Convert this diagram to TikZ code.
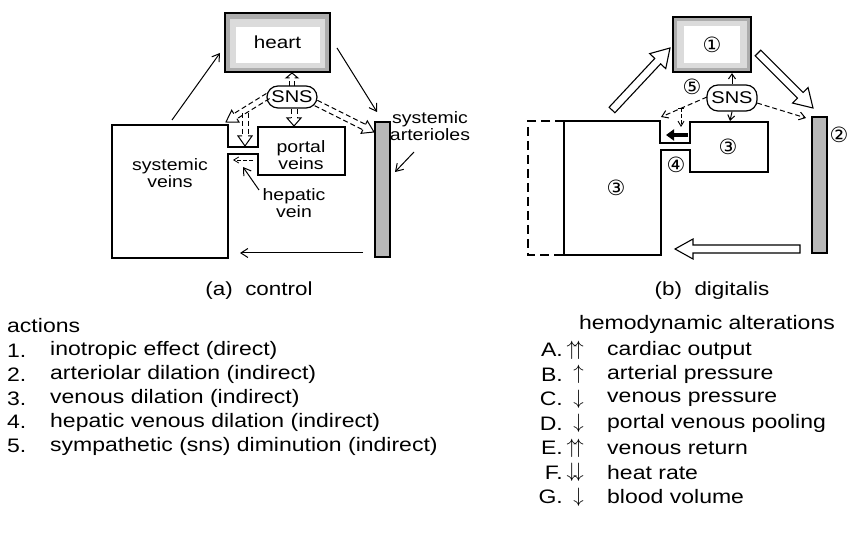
\documentclass[tikz,border=0pt]{standalone}
\usepackage{fontspec}
\setmainfont{Liberation Sans}[FakeStretch=1.18]
\newfontfamily\symfont{DejaVu Sans}
\usetikzlibrary{arrows.meta,calc}

\tikzset{
  wall/.style={line width=1.3pt, line join=miter},
  stipple/.style={draw, line width=2.2pt, fill=black!32, inner sep=0pt},
  vessel/.style={draw, line width=1.5pt, fill=black!28, inner sep=0pt},
  flow/.style={line width=1pt, -{Straight Barb[length=7pt,width=9pt,line width=1pt]}},
  nerve/.style={line width=1pt, dash pattern=on 5pt off 3pt, -{Straight Barb[length=6pt,width=8pt,line width=1pt]}},
  nervebox/.style={draw, line width=1.2pt, rounded corners=11pt, minimum width=50pt,
    minimum height=24pt, inner sep=0pt, font=\fontsize{17}{17}\selectfont},
  partname/.style={font=\fontsize{16.5}{17}\selectfont, align=center, inner sep=1pt},
  circnum/.style={font=\symfont\fontsize{21}{21}\selectfont, inner sep=0pt},
  listtext/.style={anchor=west, inner sep=0pt, font=\fontsize{19.5}{21}\selectfont},
}

% hollow block arrow: [style]{from}{to}{half shaft}{head length}{half head}
\newcommand{\hollowarrow}[6][]{%
  \coordinate (hbase) at ($(#3)!#5!(#2)$);
  \filldraw[fill=white, line width=1.1pt, line join=miter, #1]
    ($(#2)!#4!90:(#3)$) -- ($(hbase)!#4!90:(#3)$) -- ($(hbase)!#6!90:(#3)$) -- (#3)
    -- ($(hbase)!#6!-90:(#3)$) -- ($(hbase)!#4!-90:(#3)$) -- ($(#2)!#4!-90:(#3)$) -- cycle;
}
% dashed hollow arrow, open at its tail: {from}{to}{half shaft}{head length}{half head}
\newcommand{\dashedhollow}[5]{%
  \coordinate (hbase) at ($(#2)!#4!(#1)$);
  \draw[line width=1pt, dash pattern=on 5pt off 3pt] ($(#1)!#3!90:(#2)$) -- ($(hbase)!#3!90:(#2)$);
  \draw[line width=1pt, dash pattern=on 5pt off 3pt] ($(#1)!#3!-90:(#2)$) -- ($(hbase)!#3!-90:(#2)$);
  \draw[line width=1pt, line join=miter] ($(hbase)!#3!90:(#2)$) -- ($(hbase)!#5!90:(#2)$) -- (#2)
    -- ($(hbase)!#5!-90:(#2)$) -- ($(hbase)!#3!-90:(#2)$);
}

\begin{document}
\begin{tikzpicture}[x=1pt, y=-1pt]
\useasboundingbox (0,0) rectangle (849,534);

% ================= (a) control =================
% heart
\node[stipple, minimum width=105pt, minimum height=59pt] (heartA) at (277.5,42.5) {};
\fill[black!14] ([shift={(6pt,-7pt)}]heartA.north west) rectangle ([shift={(-6pt,5pt)}]heartA.south east);
\fill[white] ([shift={(12pt,-15pt)}]heartA.north west) rectangle ([shift={(-11pt,10pt)}]heartA.south east);
\node[partname, font=\fontsize{17.5}{17}\selectfont] (heartAtxt) at (heartA) {heart};

% sympathetic nerves
\node[nervebox, minimum height=22pt] (snsA) at (292,97) {SNS};

% systemic arterioles
\node[vessel, minimum width=15pt, minimum height=135pt] (barA) at (382.5,189.5) {};

% systemic veins + cup + portal veins
\draw[wall] (228,154) -- (228,258) -- (112,258) -- (112,125) -- (228,125) -- (228,147)
  -- (258,147) -- (258,127) -- (345,127) -- (345,175) -- (258,175) -- (258,154) -- cycle;

\node[partname] (veinsA) at (170,173) {systemic\\veins};
\node[partname] (portalA) at (301,155) {portal\\veins};
\node[partname] (hepatic) at (294,203) {hepatic\\vein};
\node[partname] (arterioles) at (430,126) {systemic\\arterioles};

% circulation
\coordinate (a-sv) at (172,120); \coordinate (a-ht) at (220,53);
\coordinate (a-hr) at (337,48);  \coordinate (a-bt) at (377,112);
\coordinate (a-bb) at (363,253); \coordinate (a-vb) at (240,253);
\draw[flow] (a-sv) -- (a-ht);
\draw[flow] (a-hr) -- (a-bt);
\draw[flow] (a-bb) -- (a-vb);

% hepatic vein flow and pointers
\coordinate (a-hp1) at (253,160); \coordinate (a-hp2) at (233,160);
\draw[line width=0.8pt, dash pattern=on 4pt off 2pt, -{Straight Barb[length=5pt,width=6pt]}] (a-hp1) -- (a-hp2);
\coordinate (a-hl) at (259,190); \coordinate (a-hv) at (243,167);
\draw[flow] (a-hl) -- (a-hv);
\coordinate (a-al) at (414,152); \coordinate (a-ar) at (395,172);
\draw[flow] (a-al) -- (a-ar);

% SNS outflow (dashed, hollow)
\coordinate (a-n1) at (268,96);  \coordinate (a-n1t) at (226,122);
\coordinate (a-n2) at (245,113); \coordinate (a-n2t) at (245,146);
\coordinate (a-n3) at (294,109); \coordinate (a-n3t) at (294,126);
\coordinate (a-n4) at (316,103); \coordinate (a-n4t) at (374,132);
\coordinate (a-n5) at (292,86);  \coordinate (a-n5t) at (292,73);
\dashedhollow{a-n1}{a-n1t}{3pt}{11pt}{7pt}
\dashedhollow{a-n2}{a-n2t}{3pt}{10pt}{7pt}
\dashedhollow{a-n3}{a-n3t}{3pt}{8pt}{7pt}
\dashedhollow{a-n4}{a-n4t}{3pt}{11pt}{7pt}
\dashedhollow{a-n5}{a-n5t}{2.5pt}{5pt}{6pt}

\node[partname, font=\fontsize{19}{19}\selectfont] (capA) at (259,291) {(a)\ \ control};

% ================= (b) digitalis =================
\node[stipple, minimum width=78pt, minimum height=55pt] (heartB) at (712,44.5) {};
\fill[black!14] ([shift={(5pt,-5pt)}]heartB.north west) rectangle ([shift={(-5pt,5pt)}]heartB.south east);
\fill[white] ([shift={(12pt,-10pt)}]heartB.north west) rectangle ([shift={(-12pt,10pt)}]heartB.south east);
\node[circnum] (n1) at (heartB) {①};

\node[nervebox, minimum height=26pt] (snsB) at (732,98) {SNS};
\node[circnum] (n5) at (692,87) {⑤};

\node[vessel, minimum width=15pt, minimum height=136pt] (barB) at (819.5,185) {};
\node[circnum] (n2) at (839,135) {②};

% systemic veins + cup + portal veins, dilated outline dashed
\draw[wall] (661,150) -- (661,255) -- (564,255) -- (564,121) -- (660,121) -- (660,143)
  -- (690,143) -- (690,122) -- (768,122) -- (768,172) -- (690,172) -- (690,150) -- cycle;
\draw[wall, dash pattern=on 9pt off 5pt] (564,121) -- (528,121) -- (528,255) -- (564,255);
\node[circnum] (n3v) at (616,188) {③};
\node[circnum] (n3p) at (728,147) {③};
\node[circnum] (n4) at (676,165) {④};

% circulation (hollow block arrows)
\coordinate (b-sv) at (612,110); \coordinate (b-ht) at (670,48);
\coordinate (b-hr) at (758,53);  \coordinate (b-bt) at (813,108);
\coordinate (b-bb) at (800,249); \coordinate (b-vb) at (675,249);
\hollowarrow{b-sv}{b-ht}{4pt}{18pt}{11pt}
\hollowarrow{b-hr}{b-bt}{4pt}{18pt}{11pt}
\hollowarrow{b-bb}{b-vb}{4pt}{18pt}{10pt}

% SNS outflow
\draw[flow, {Straight Barb[length=5pt,width=7pt]}-] (heartB.south -| snsB.north) -- (snsB.north);
\draw[flow, -{Straight Barb[length=5pt,width=7pt]}] (snsB.south) -- (730,121);
\coordinate (b-n1) at (707,97);  \coordinate (b-n1t) at (661,117);
\coordinate (b-n4) at (757,103); \coordinate (b-n4t) at (806,118);
\coordinate (b-tk) at (681,108); \coordinate (b-tkt) at (681,127);
\draw[nerve] (b-n1) -- (b-n1t);
\draw[nerve] (b-n4) -- (b-n4t);
\draw[line width=0.9pt, dash pattern=on 4pt off 2pt, -{Straight Barb[length=5pt,width=6pt]}] (b-tk) -- (b-tkt);
\draw[line width=0.9pt] ([xshift=-3pt]b-tk) -- ([xshift=3pt]b-tk);
\coordinate (b-cp1) at (688,135); \coordinate (b-cp2) at (666,135);
\draw[line width=3.5pt, -{Triangle[length=8pt,width=11pt]}] (b-cp1) -- (b-cp2);

\node[partname, font=\fontsize{19}{19}\selectfont] (capB) at (712,291) {(b)\ \ digitalis};

% ================= legends =================
\node[listtext] (actions) at (7,326) {actions};
\foreach \txt [count=\i] in {inotropic effect (direct), arteriolar dilation (indirect),
    venous dilation (indirect), hepatic venous dilation (indirect),
    sympathetic (sns) diminution (indirect)} {
  \pgfmathsetmacro{\yy}{327+23.8*\i}
  \node[listtext] (act\i) at (7,\yy) {\i.};
  \node[listtext] (acttxt\i) at (50,\yy) {\txt};
}

\node[partname, font=\fontsize{19.5}{21}\selectfont] (alter) at (707,324) {hemodynamic alterations};
\foreach \lt/\ar/\txt [count=\i from 0] in {A./$\uparrow\!\uparrow$/cardiac output,
    B./$\uparrow$/arterial pressure, C./$\downarrow$/venous pressure,
    D./$\downarrow$/portal venous pooling, E./$\uparrow\!\uparrow$/venous return,
    F./$\downarrow\!\downarrow$/heat rate, G./$\downarrow$/blood volume} {
  \pgfmathsetmacro{\yy}{350+24.5*\i}
  \node[listtext, anchor=east] (alt\i) at (563,\yy) {\lt};
  \node[listtext, anchor=east] (altar\i) at (584,\yy) {\ar};
  \node[listtext] (alttxt\i) at (607,\yy) {\txt};
}
\end{tikzpicture}
\end{document}
